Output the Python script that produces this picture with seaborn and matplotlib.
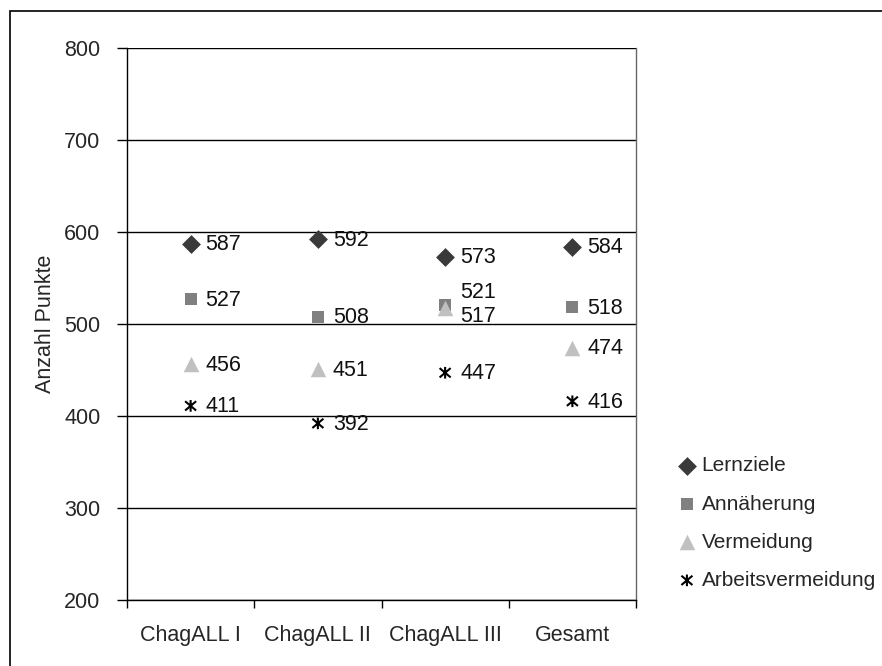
import matplotlib
matplotlib.use("Agg")
import matplotlib.pyplot as plt
from matplotlib.path import Path
from matplotlib.markers import MarkerStyle
from matplotlib.patches import Rectangle
import seaborn as sns
import pandas as pd

# Data
categories = ["ChagALL I", "ChagALL II", "ChagALL III", "Gesamt"]
lernziele = [587, 592, 573, 584]
annaeherung = [527, 508, 521, 518]
vermeidung = [456, 451, 517, 474]
arbeitsvermeidung = [411, 392, 447, 416]
series_names = ["Lernziele", "Annäherung", "Vermeidung", "Arbeitsvermeidung"]
y_ticks = [200, 300, 400, 500, 600, 700, 800]

sns.set_theme(style="white")
plt.rcParams["font.family"] = ["Liberation Sans Narrow", "Liberation Sans", "DejaVu Sans"]

rows = []
for name, vals in zip(series_names, [lernziele, annaeherung, vermeidung, arbeitsvermeidung]):
    for cat, v in zip(categories, vals):
        rows.append({"Kategorie": cat, "Punkte": v, "Gruppe": name})
df = pd.DataFrame(rows)

# asterisk: X with a vertical stroke, line-art only
ast_path = Path([(-0.95, -0.8), (0.95, 0.8), (-0.95, 0.8), (0.95, -0.8), (0, -1), (0, 1)],
                [Path.MOVETO, Path.LINETO, Path.MOVETO, Path.LINETO, Path.MOVETO, Path.LINETO])
ast = MarkerStyle(ast_path, fillstyle="none")

styles = {
    "Lernziele": dict(marker="D", color="#3a3a3a", s=92, lw=0),
    "Annäherung": dict(marker="s", color="#808080", s=86, lw=0),
    "Vermeidung": dict(marker="^", color="#c0c0c0", s=125, lw=0),
    "Arbeitsvermeidung": dict(marker=ast, color="#000000", s=70, lw=1.5),
}

fig = plt.figure(figsize=(8.82, 6.66), dpi=100)
ax = fig.add_axes([127 / 882, 1 - 600 / 666, (636 - 127) / 882, (600 - 48) / 666])

# outer chart frame
fig.patches.append(Rectangle((10 / 882, -0.05), 1.2, 1 - 11 / 666 + 0.05,
                             transform=fig.transFigure, fill=False,
                             edgecolor="black", linewidth=1.2, zorder=0))

pos = {c: i for i, c in enumerate(categories)}
df["x"] = df["Kategorie"].map(pos)

for name in series_names:
    st = styles[name]
    sub = df[df["Gruppe"] == name]
    sns.scatterplot(data=sub, x="x", y="Punkte", ax=ax, marker=st["marker"],
                    color=st["color"], edgecolor=st["color"],
                    linewidth=st["lw"], s=st["s"], label=name, zorder=3, legend=False)

# value labels
label_dy = {("ChagALL III", "Annäherung"): 12, ("ChagALL III", "Vermeidung"): -8}
for _, r in df.iterrows():
    dy = label_dy.get((r["Kategorie"], r["Gruppe"]), -1)
    ax.annotate(f"{r['Punkte']}", (r["x"], r["Punkte"]), xytext=(15, dy),
                textcoords="offset pixels", ha="left", va="center",
                fontsize=15.5, color="#111111")

ax.set_xlim(-0.5, 3.5)
ax.set_ylim(200, 800)
ax.set_yticks(y_ticks)
ax.yaxis.grid(True, color="black", linewidth=1)
ax.xaxis.grid(False)
ax.set_axisbelow(True)
ax.set_xticks(range(len(categories)))
ax.set_xticklabels(categories, fontsize=15.5)
ax.set_xticks([i - 0.5 for i in range(len(categories) + 1)], minor=True)
ax.tick_params(axis="x", which="major", length=0, pad=18)
ax.tick_params(axis="x", which="minor", length=6, width=1, color="black", direction="out", bottom=True)
ax.tick_params(axis="y", length=7, width=1, color="black", direction="out", left=True,
               labelsize=15.5, pad=12)
ax.set_xlabel("")
ax.set_ylabel("Anzahl Punkte", fontsize=15.5, labelpad=6)
for sp in ["left", "bottom", "right"]:
    ax.spines[sp].set_color("black")
    ax.spines[sp].set_linewidth(1)
ax.spines["top"].set_visible(False)
ax.spines["right"].set_color("#666666")

handles, labels = ax.get_legend_handles_labels()
fig.legend(handles, labels, loc="upper left", bbox_to_anchor=(664 / 882, 1 - 448 / 666),
           frameon=False, fontsize=15, handletextpad=0.0, labelspacing=0.92,
           handlelength=1.4, borderaxespad=0)

fig.savefig("out.png", dpi=100)
